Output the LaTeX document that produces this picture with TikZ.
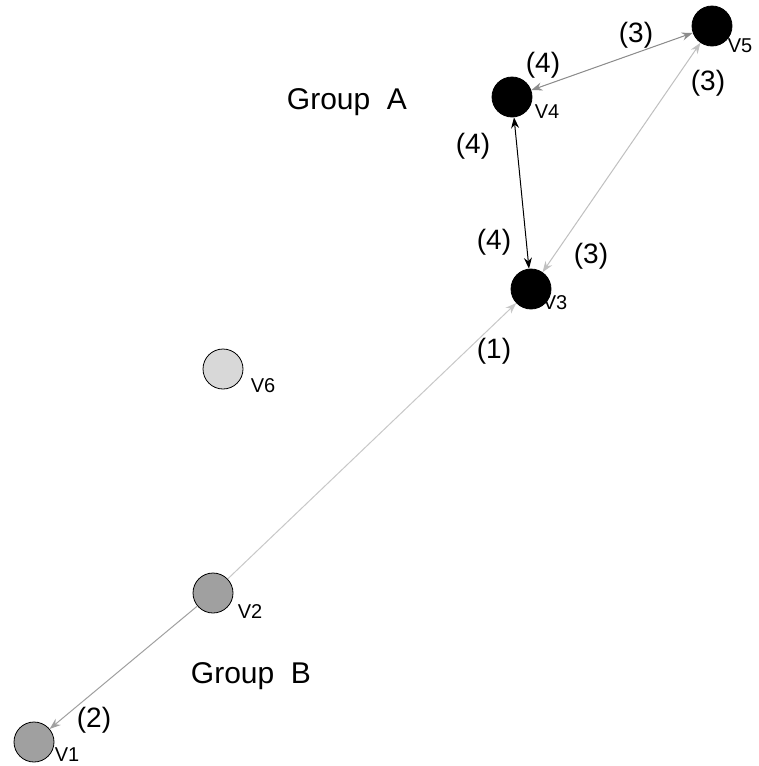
\documentclass[tikz,border=0pt]{standalone}
\usepackage{fontspec}
\setmainfont{Liberation Sans}
\usetikzlibrary{arrows.meta}
\begin{document}
\begin{tikzpicture}[x=1pt,y=-1pt,
  vert/.style={circle,draw=black,line width=0.8pt,minimum size=40pt,inner sep=0pt},
  vlab/.style={font=\fontsize{20}{22}\selectfont,inner sep=0pt},
  elab/.style={font=\fontsize{28}{30}\selectfont,inner sep=0pt},
  glab/.style={font=\fontsize{30}{32}\selectfont,inner sep=0pt},
  edge/.style={line width=1pt,-{Stealth[length=11pt,width=8pt]}},
  bedge/.style={line width=1pt,{Stealth[length=11pt,width=8pt]}-{Stealth[length=11pt,width=8pt]}}]
\useasboundingbox (0,0) rectangle (759,766);
\fill[white] (0,0) rectangle (759,766);
% vertices
\node[vert,fill=black] (v5) at (712,26) {};
\node[vert,fill=black] (v4) at (512,97) {};
\node[vert,fill=black] (v3) at (531,289) {};
\node[vert,fill={rgb,255:red,216;green,216;blue,216}] (v6) at (223,369) {};
\node[vert,fill={rgb,255:red,160;green,160;blue,160}] (v2) at (213,593) {};
\node[vert,fill={rgb,255:red,160;green,160;blue,160}] (v1) at (34,742) {};
% vertex labels
\node[vlab] (l5) at (740,46) {V5};
\node[vlab] (l4) at (547,112) {V4};
\node[vlab] (l3) at (555,303) {V3};
\node[vlab] (l6) at (263,386) {V6};
\node[vlab] (l2) at (250,612) {V2};
\node[vlab] (l1) at (67,755) {V1};
% group labels
\node[glab] (ga) at (347,102) {Group\ \ A};
\node[glab] (gb) at (251,676) {Group\ \ B};
% edges
\draw[bedge,draw={rgb,255:red,140;green,140;blue,140},fill={rgb,255:red,140;green,140;blue,140}] (v4) -- (v5);
\draw[bedge,draw=black] (v4) -- (v3);
\draw[bedge,draw={rgb,255:red,192;green,192;blue,192}] (v5) -- (v3);
\draw[edge,draw={rgb,255:red,200;green,200;blue,200}] (v2) -- (v3);
\draw[edge,draw={rgb,255:red,160;green,160;blue,160}] (v2) -- (v1);
% edge labels
\node[elab] (e1) at (636,35) {(3)};
\node[elab] (e2) at (543,65) {(4)};
\node[elab] (e3) at (708,83) {(3)};
\node[elab] (e4) at (473,146) {(4)};
\node[elab] (e5) at (494,242) {(4)};
\node[elab] (e6) at (591,256) {(3)};
\node[elab] (e7) at (494,351) {(1)};
\node[elab] (e8) at (94,720) {(2)};
\end{tikzpicture}
\end{document}
